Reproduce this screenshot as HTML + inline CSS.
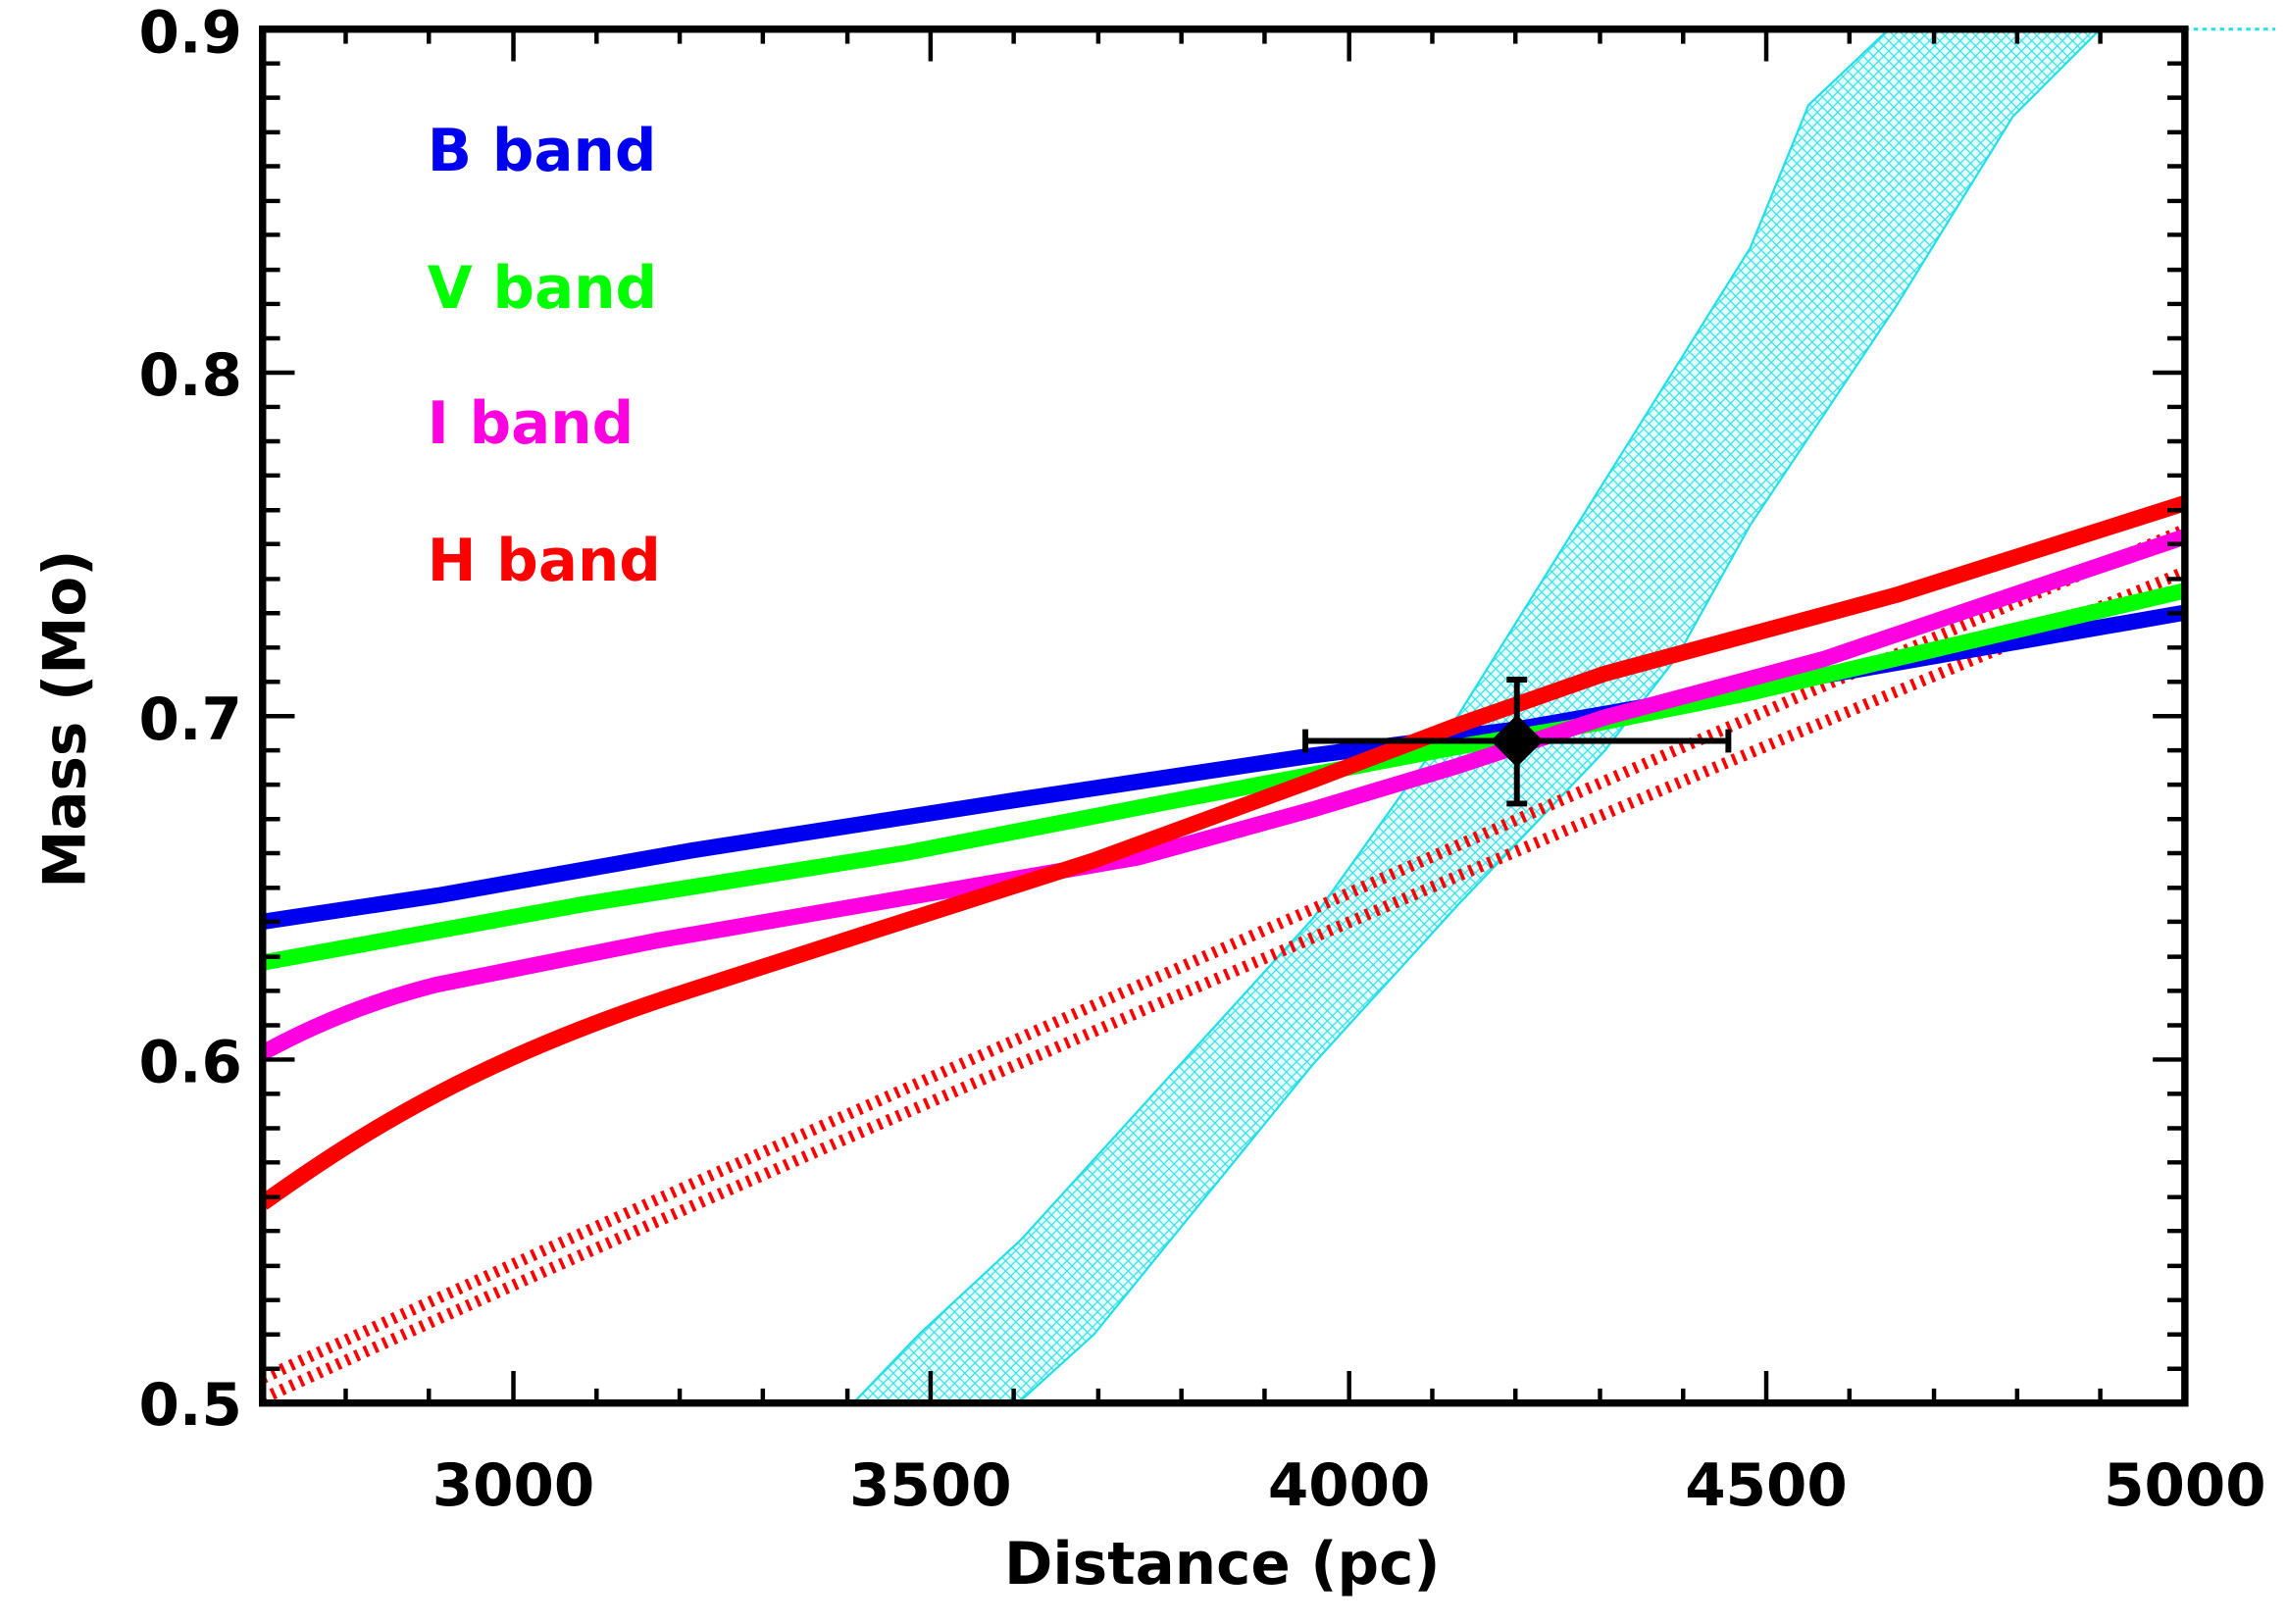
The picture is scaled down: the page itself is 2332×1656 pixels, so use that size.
<!DOCTYPE html>
<html><head><meta charset="utf-8"><style>html,body{margin:0;padding:0;background:#fff}svg{display:block}</style></head>
<body>
<svg width="2332" height="1656" viewBox="0 0 1568 1113.5" xmlns="http://www.w3.org/2000/svg" font-family="DejaVu Sans, Liberation Sans, sans-serif" font-weight="bold">
<defs>
<pattern id="hatch" width="7" height="7" patternUnits="userSpaceOnUse">
<rect width="7" height="7" fill="#e8fdfd"/>
<path d="M0 0L7 7M7 0L0 7" stroke="#33e0e8" stroke-width="0.8"/>
</pattern>
<clipPath id="clip"><rect x="180" y="20" width="1318" height="942"/></clipPath>
</defs>
<rect width="1568" height="1113.5" fill="#fff"/>
<g clip-path="url(#clip)">
<path d="M585,962 L630,915 L700,850 L800,740 L900,630 L1000,490 L1100,330 L1200,170 L1240,72 L1295,20 L1440,20 L1380,80 L1300,210 L1200,360 L1150,450 L1100,515 L1000,620 L900,730 L750,915 L698,962 Z" fill="url(#hatch)" stroke="#22e0e8" stroke-width="1.5"/>
<line x1="180" y1="962" x2="585" y2="962" stroke="#22e0e8" stroke-width="2"/>
<g fill="none" stroke-linejoin="round" stroke-width="11">
<path d="M180,945 C500,798 1000,578 1498,363" stroke="#f00" stroke-width="8" stroke-dasharray="2.5 4.5"/>
<path d="M180,959 C500,812 1000,598 1498,392" stroke="#f00" stroke-width="8" stroke-dasharray="2.5 4.5"/>
<path d="M180,632 L300,614 L475,583 L700,548 L900,518 L1040,500 L1200,472 L1498,420" stroke="#0000f0"/>
<path d="M180,660 L400,620 L620,585 L800,550 L1000,512 L1100,495 L1200,475 L1498,405" stroke="#00ff00"/>
<path d="M180,722 C220,700 260,685 300,675 L450,645 L780,588 L900,555 L1000,525 L1100,492 L1250,452 L1498,368" stroke="#ff00e0"/>
<path d="M180,825 C250,775 330,725 470,680 L600,638 L750,590 L900,535 L1000,497 L1100,462 L1300,408 L1498,345" stroke="#f00"/>
</g>
</g>
<line x1="1498" y1="20" x2="1560" y2="20" stroke="#22e0e8" stroke-width="2" stroke-dasharray="3 3"/>
<g stroke="#000" stroke-width="4">
<line x1="895" y1="508" x2="1185" y2="508"/>
<line x1="1040" y1="466" x2="1040" y2="551"/>
<line x1="895" y1="500" x2="895" y2="516"/>
<line x1="1185" y1="500" x2="1185" y2="516"/>
<line x1="1033" y1="466" x2="1047" y2="466"/>
<line x1="1033" y1="551" x2="1047" y2="551"/>
</g>
<path d="M1040,490 L1058,508 L1040,526 L1022,508 Z" fill="#000"/>
<rect x="180" y="20" width="1318" height="942" fill="none" stroke="#000" stroke-width="5"/>
<g stroke="#000" stroke-width="3">
<path d="M237,962v-10M294,962v-10M352,962v-22M409,962v-10M466,962v-10M523,962v-10M581,962v-10M638,962v-22M695,962v-10M753,962v-10M810,962v-10M867,962v-10M925,962v-22M982,962v-10M1039,962v-10M1097,962v-10M1154,962v-10M1211,962v-22M1268,962v-10M1326,962v-10M1383,962v-10M1440,962v-10"/>
<path d="M237,20v10M294,20v10M352,20v22M409,20v10M466,20v10M523,20v10M581,20v10M638,20v22M695,20v10M753,20v10M810,20v10M867,20v10M925,20v22M982,20v10M1039,20v10M1097,20v10M1154,20v10M1211,20v22M1268,20v10M1326,20v10M1383,20v10M1440,20v10"/>
<path d="M180,43.5h12M180,67h12M180,90.7h12M180,114h12M180,137.8h12M180,161h12M180,185h12M180,208.4h12M180,232h12M180,255.5h22M180,279h12M180,302.6h12M180,326h12M180,349.8h12M180,373h12M180,397h12M180,420.4h12M180,444h12M180,467.5h12M180,491h22M180,514.5h12M180,538h12M180,561.6h12M180,585h12M180,608.8h12M180,632h12M180,656h12M180,679.4h12M180,703h12M180,726.5h22M180,750h12M180,773.6h12M180,797h12M180,820.8h12M180,844h12M180,868h12M180,891.4h12M180,915h12M180,938.5h12"/>
<path d="M1498,43.5h-12M1498,67h-12M1498,90.7h-12M1498,114h-12M1498,137.8h-12M1498,161h-12M1498,185h-12M1498,208.4h-12M1498,232h-12M1498,255.5h-22M1498,279h-12M1498,302.6h-12M1498,326h-12M1498,349.8h-12M1498,373h-12M1498,397h-12M1498,420.4h-12M1498,444h-12M1498,467.5h-12M1498,491h-22M1498,514.5h-12M1498,538h-12M1498,561.6h-12M1498,585h-12M1498,608.8h-12M1498,632h-12M1498,656h-12M1498,679.4h-12M1498,703h-12M1498,726.5h-22M1498,750h-12M1498,773.6h-12M1498,797h-12M1498,820.8h-12M1498,844h-12M1498,868h-12M1498,891.4h-12M1498,915h-12M1498,938.5h-12"/>
</g>
<g font-size="40" fill="#000" text-anchor="end">
<text x="166" y="36">0.9</text>
<text x="166" y="271">0.8</text>
<text x="166" y="507">0.7</text>
<text x="166" y="742">0.6</text>
<text x="166" y="977">0.5</text>
</g>
<g font-size="40" fill="#000" text-anchor="middle">
<text x="352" y="1032">3000</text>
<text x="638" y="1032">3500</text>
<text x="925" y="1032">4000</text>
<text x="1211" y="1032">4500</text>
<text x="1498" y="1032">5000</text>
<text x="838" y="1086">Distance (pc)</text>
<text transform="translate(58,493) rotate(-90)">Mass (Mo)</text>
</g>
<g font-size="40">
<text x="293" y="117" fill="#0000f0">B band</text>
<text x="293" y="211" fill="#00ff00">V band</text>
<text x="293" y="304" fill="#ff00e0">I band</text>
<text x="293" y="398" fill="#f00">H band</text>
</g>
</svg>
</body></html>
